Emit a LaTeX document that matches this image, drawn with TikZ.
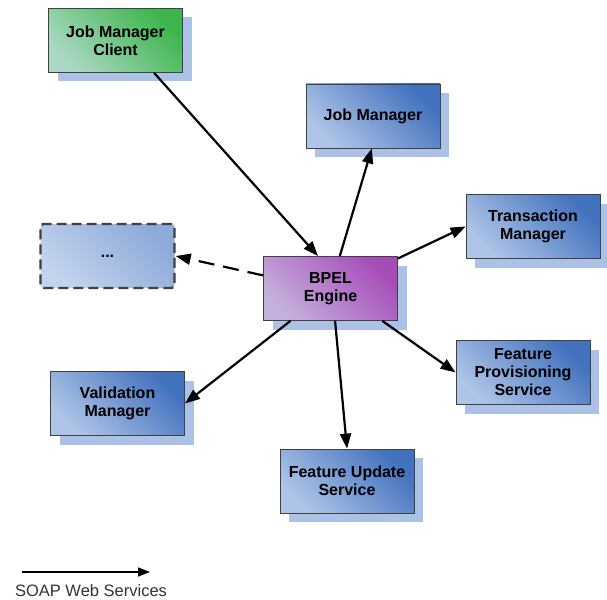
\documentclass[tikz,border=0pt]{standalone}
\usepackage{fontspec}
\setmainfont{Liberation Sans}
\usetikzlibrary{arrows.meta,shadows}

\definecolor{shadowblue}{HTML}{ABC2E6}
\definecolor{blueDark}{HTML}{4271BE}
\definecolor{blueLight}{HTML}{AFC5E8}
\definecolor{greenDark}{HTML}{3DB54C}
\definecolor{greenLight}{HTML}{AAD8C4}
\definecolor{purpleDark}{HTML}{A64CB9}
\definecolor{purpleLight}{HTML}{C4B0DC}

\tikzset{
  plain/.style={draw=black!75, line width=0.8pt, minimum width=134pt, minimum height=64pt,
    align=center, font=\bfseries\fontsize{16}{18}\selectfont,
    top color=blueDark, bottom color=blueLight, shading angle=-45},
  box/.style={plain,
    drop shadow={shadow xshift=9pt, shadow yshift=-9pt, fill=shadowblue, opacity=1}},
  soap/.style={line width=2.2pt, -{Triangle[length=15pt,width=11pt]}},
}

\begin{document}
\begin{tikzpicture}[x=1pt, y=-1pt]
\useasboundingbox (0, 0) rectangle (607, 599);

\node[box, top color=greenDark, bottom color=greenLight, shading angle=-45] (jmc) at (115.5, 40.5) {Job Manager\\Client};
\node[box] (jm) at (373, 116) {Job Manager};
\node[box] (tm) at (533, 226.5) {Transaction\\Manager};
\node[plain, draw=black!75, line width=2.4pt, dash pattern=on 10pt off 5pt, rounded corners=3pt,
  top color=blueDark!60!white, bottom color=blueLight!75!white, shading angle=-45] (etc) at (107.5, 256) {...};
\node[box, top color=purpleDark, bottom color=purpleLight, shading angle=-45] (bpel) at (330.5, 288.5) {BPEL\\Engine};
\node[box] (fps) at (523, 372.5) {Feature\\Provisioning\\Service};
\node[box] (vm) at (117.5, 403.5) {Validation\\Manager};
\node[box] (fus) at (347, 481) {Feature Update\\Service};

\draw[soap] (jmc.-40) -- (bpel.111);
\draw[soap] (bpel.74) -- (jm.-92);
\draw[soap] (bpel.24) -- (tm.west);
\draw[soap, dash pattern=on 16pt off 9pt] (bpel.169) -- (etc.east);
\draw[soap] (bpel.219) -- (vm.east);
\draw[soap] (bpel.-32) -- (fps.west);
\draw[soap] (bpel.-82) -- (fus.north);

\coordinate (l1) at (22, 572);
\coordinate (l2) at (150, 572);
\draw[line width=1.4pt, -{Triangle[length=12pt,width=9pt]}] (l1) -- (l2);
\node[text=black!80, font=\fontsize{16.5}{18}\selectfont] (lbl) at (91, 591) {SOAP Web Services};
\end{tikzpicture}
\end{document}
